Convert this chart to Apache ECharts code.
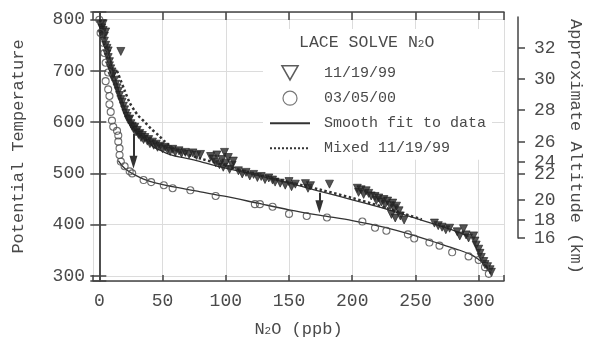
<!DOCTYPE html>
<html><head><meta charset="utf-8">
<script src="https://cdn.jsdelivr.net/npm/echarts@6/dist/echarts.min.js"></script>
<style>html,body{margin:0;padding:0;background:#fff}#c{width:592px;height:343px}</style>
</head><body><div id="c"></div>
<script>
// ---- data (N2O ppb, potential temperature K) ----
const altitudeKm = [32, 30, 28, 26, 24, 22, 20, 18, 16];
const altitudeTheta = [746, 686, 626, 564, 526, 502, 452, 414, 379];

const tri111999 = [
 [1,790],[2,784],[2,772],[3,792],[3,779],[4,768],[4,758],[5,776],[5,750],[6,744],[6,733],[7,739],[7,726],[8,718],[8,710],
 [9,704],[10,698],[10,689],[11,694],[12,682],[13,674],[14,667],[15,660],[16,652],[17,644],[17,738],[18,639],[19,631],
 [20,624],[21,617],[22,611],[23,604],[24,606],[25,597],[26,592],[27,587],[28,590],[29,581],[30,584],[31,576],[32,578],
 [33,570],[34,574],[35,566],[36,570],[38,563],[39,566],[40,558],[42,561],[43,555],[45,557],[46,551],[48,553],[50,548],
 [52,551],[54,546],[56,543],[58,547],[60,541],[63,544],[65,539],[68,541],[71,537],[74,540],[77,535],[80,537],
 [88,533],[90,528],[92,521],[93,536],[95,517],[97,527],[98,512],[99,541],[100,520],[102,531],[103,508],[105,516],[106,524],
 [110,505],[113,499],[116,502],[119,495],[122,498],[125,492],[128,494],[131,488],[134,491],
 [137,487],[139,483],[143,481],[147,477],[150,484],[152,474],[155,479],
 [163,480],[165,471],[167,476],[182,479],
 [204,471],[205,463],[207,468],[209,459],[211,466],[213,461],[215,456],
 [218,455],[219,447],[221,452],[223,444],[225,449],[226,439],[228,446],[230,437],[232,442],[233,431],[235,436],[237,427],
 [231,420],[234,413],[238,417],[241,409],
 [265,403],[268,398],[271,395],[274,390],[277,393],
 [283,386],[285,378],[288,392],[290,380],[292,374],
 [296,378],[297,368],[298,360],[300,352],[301,344],[302,336],[304,328],[305,322],
 [307,318],[309,312],[310,307]
];
const circ030500 = [
 [0,800],[1,774],[3,755],[4,735],[5,716],[7,697],[5,680],[7,664],[8,651],[8,635],[9,620],[10,603],[11,591],[14,583],
 [15,574],[15,562],[16,549],[16,536],[17,523],[20,514],[24,504],[26,500],[35,487],[41,483],[51,477],[58,471],[72,467],
 [92,456],[123,440],[127,440],[137,435],[150,421],[164,417],[180,414],[208,406],[218,394],[227,388],[244,381],[249,373],
 [261,365],[269,359],[279,346],[292,338],[300,331],[305,317],[308,304]
];
const fit111999 = [
 [1,800],[4,768],[8,728],[12,690],[16,656],[20,628],[25,604],[30,586],[35,572],[42,553],[50,543],[58,535],[70,529],
 [80,523],[95,513],[111,504],[130,493],[150,481],[170,468],[190,455],[210,442],[230,428],[248,414],[265,401],[280,389],[292,377]
];
const fit030500 = [
 [15,525],[18,515],[22,506],[28,497],[35,489],[45,481],[60,473],[80,464],[100,455],[125,442],[150,429],[175,418],
 [200,408],[225,395],[250,378],[270,362],[285,350],[295,340],[302,328],[307,315],[310,305]
];
const mixed111999 = [
 [14,700],[20,662],[24,638],[28,622],[31,612],[36,600],[41,587],[47,574],[51,564],[55,555],[60,546],[67,539],[80,529],
 [100,515],[120,501],[150,483],[175,468],[200,452],[225,434],[255,410]
];
// arrows: [N2O, from theta, to theta]
const arrows = [[27, 578, 522], [174, 462, 435]];

const FONT = 'Liberation Mono';
const INK = '#333';
const TXT = '#4a4a4a';
const frame = { lineStyle: { color: '#444', width: 1.5 } };

const chart = echarts.init(document.getElementById('c'), null, { renderer: 'canvas' });
const rich = (fs) => ({
  n: { fontFamily: FONT, fontSize: fs, fontWeight: 'normal', color: TXT, verticalAlign: 'top', lineHeight: fs + 3 },
  s: { fontFamily: FONT, fontSize: Math.round(fs * 0.65), fontWeight: 'normal', color: TXT, verticalAlign: 'top', lineHeight: fs + 3, padding: [5, 0, 0, 0] }
});

chart.setOption({
  animation: false,
  backgroundColor: '#fff',
  title: {
    text: '{n|LACE SOLVE N}{s|2}{n|O}',
    left: 299, top: 34, padding: 0,
    textStyle: { fontWeight: 'normal', rich: rich(16.5) }
  },
  legend: {
    orient: 'vertical', left: 263, top: 29,
    padding: [36, 6, 4, 6],
    backgroundColor: '#fff',
    itemWidth: 40, itemHeight: 14, itemGap: 10,
    formatter: n => ' ' + n,
    textStyle: { fontFamily: FONT, fontSize: 15, color: TXT },
    data: [
      { name: '11/19/99', icon: 'path://M0,0 L12,0 L6,10.5 Z', itemStyle: { color: '#fff', borderColor: '#333', borderWidth: 1.6 } },
      { name: '03/05/00', itemStyle: { color: '#fff', borderColor: '#555', borderWidth: 1.2 } },
      { name: 'Smooth fit to data', itemStyle: { opacity: 0 } },
      { name: 'Mixed 11/19/99', itemStyle: { opacity: 0 } }
    ]
  },
  grid: [
    { left: 93, right: 79, top: 12, bottom: 59 },
    { left: 518, width: 1, top: 17, height: 221 }
  ],
  xAxis: [
    {
      gridIndex: 0, type: 'value', min: -5, max: 320, minInterval: 50, maxInterval: 50, position: 'bottom',
      axisLine: frame, axisTick: { inside: true, length: 6, lineStyle: { color: '#444', width: 1.5 } },
      axisLabel: { margin: 11, fontFamily: FONT, fontSize: 18, color: TXT, formatter: v => (v % 50 === 0 ? String(v) : '') },
      splitLine: { show: true, lineStyle: { color: '#dcdcdc', width: 1 } },
      name: '{n|N}{s|2}{n|O (ppb)}', nameLocation: 'middle', nameGap: 40,
      nameTextStyle: { rich: rich(17) }
    },
    {
      gridIndex: 0, type: 'value', min: -5, max: 320, minInterval: 50, maxInterval: 50, position: 'top',
      axisLine: frame, axisTick: { inside: true, length: 8, lineStyle: { color: '#444', width: 1.5 } },
      axisLabel: { show: false }, splitLine: { show: false }
    },
    { gridIndex: 1, type: 'value', min: 0, max: 1, show: false }
  ],
  yAxis: [
    {
      gridIndex: 0, type: 'value', min: 290, max: 815, minInterval: 100, maxInterval: 100, position: 'left',
      axisLine: frame, axisTick: { inside: true, length: 7, lineStyle: { color: '#444', width: 1.5 } },
      axisLabel: { margin: 8, fontFamily: FONT, fontSize: 18, color: TXT, formatter: v => (v % 100 === 0 ? String(v) : '') },
      splitLine: { show: true, lineStyle: { color: '#dcdcdc', width: 1 } },
      name: 'Potential Temperature', nameLocation: 'middle', nameGap: 66, nameRotate: 90,
      nameTextStyle: { fontFamily: FONT, fontSize: 17, color: TXT }
    },
    {
      gridIndex: 0, type: 'value', min: 290, max: 815, minInterval: 100, maxInterval: 100, position: 'right',
      axisLine: frame, axisTick: { inside: true, length: 9, lineStyle: { color: '#444', width: 1.5 } },
      axisLabel: { show: false }, splitLine: { show: false },
      name: 'Approximate Altitude (km)', nameLocation: 'middle', nameGap: 63, nameRotate: -90,
      nameTextStyle: { fontFamily: FONT, fontSize: 17, color: TXT }
    },
    {
      gridIndex: 1, type: 'value', min: 378.8, max: 805.4, position: 'right',
      axisLine: { show: true, lineStyle: { color: '#444', width: 1.5 } },
      axisTick: { show: true, inside: false, length: 7, customValues: altitudeTheta, lineStyle: { color: '#444', width: 1.5 } },
      axisLabel: {
        customValues: altitudeTheta, margin: 15, fontFamily: FONT, fontSize: 18, color: TXT,
        formatter: v => {
          let best = 0;
          altitudeTheta.forEach((t, i) => { if (Math.abs(t - v) < Math.abs(altitudeTheta[best] - v)) best = i; });
          return String(altitudeKm[best]);
        }
      },
      splitLine: { show: false }
    }
  ],
  series: [
    {
      name: '11/19/99', type: 'scatter', xAxisIndex: 0, yAxisIndex: 0, data: tri111999,
      symbol: 'triangle', symbolRotate: 180, symbolSize: 8, z: 3,
      itemStyle: { color: '#2b2b2b', borderColor: '#1e1e1e', borderWidth: 0.8 },
      emphasis: { disabled: true }
    },
    {
      name: '03/05/00', type: 'scatter', xAxisIndex: 0, yAxisIndex: 0, data: circ030500,
      symbol: 'circle', symbolSize: 7, z: 3,
      itemStyle: { color: 'rgba(255,255,255,0)', borderColor: '#4a4a4a', borderWidth: 1.1 },
      emphasis: { disabled: true }
    },
    {
      name: 'Smooth fit to data', type: 'line', xAxisIndex: 0, yAxisIndex: 0, data: fit111999,
      symbol: 'none', showSymbol: false, smooth: 0.3, z: 2, color: INK,
      itemStyle: { color: INK },
      lineStyle: { color: INK, width: 1.3 }, emphasis: { disabled: true },
      markLine: {
        silent: true, symbol: ['none', 'triangle'], symbolSize: [8, 13],
        label: { show: false }, lineStyle: { color: INK, width: 2, type: 'solid' },
        emphasis: { disabled: true },
        data: arrows.map(a => [{ coord: [a[0], a[1]] }, { coord: [a[0], a[2]] }])
      }
    },
    {
      name: 'Smooth fit to data', type: 'line', xAxisIndex: 0, yAxisIndex: 0, data: fit030500,
      symbol: 'none', showSymbol: false, smooth: 0.3, z: 2, color: INK,
      itemStyle: { color: INK },
      lineStyle: { color: INK, width: 1.3 }, emphasis: { disabled: true }
    },
    {
      name: 'Mixed 11/19/99', type: 'line', xAxisIndex: 0, yAxisIndex: 0, data: mixed111999,
      symbol: 'none', showSymbol: false, smooth: 0.3, z: 2, color: INK,
      itemStyle: { color: INK },
      lineStyle: { color: INK, width: 2.5, type: 'dotted' }, emphasis: { disabled: true }
    }
  ]
});
</script></body></html>
